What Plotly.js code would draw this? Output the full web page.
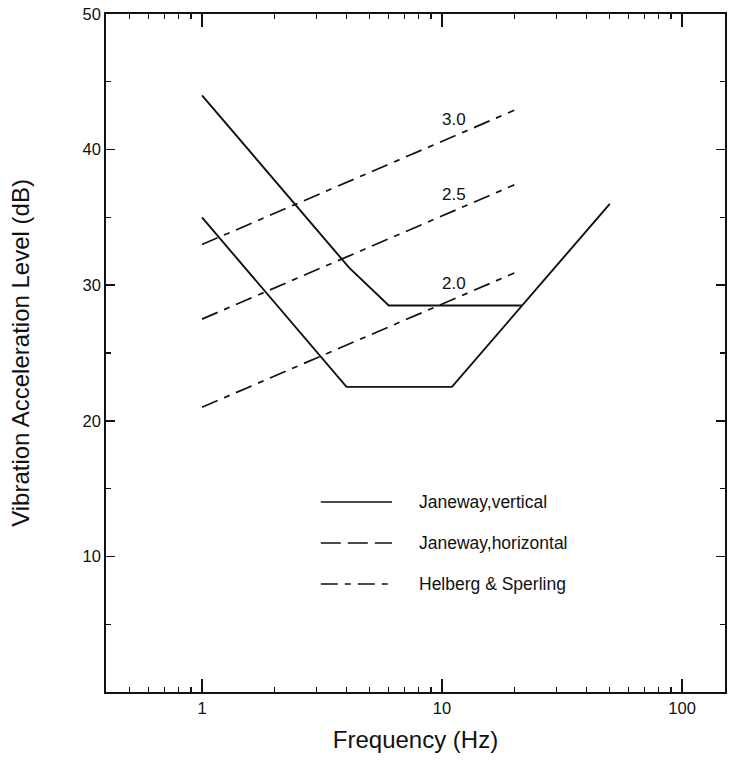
<!DOCTYPE html>
<html>
<head>
<meta charset="utf-8">
<script src="https://cdn.plot.ly/plotly-3.0.1.min.js"></script>
<style>
  html, body { margin: 0; padding: 0; background: #ffffff; }
  #chart { width: 730px; height: 771px; }
</style>
</head>
<body>
<div id="chart"></div>
<script>
// Janeway comfort criterion, upper curve (acceleration level, dB, vs frequency, Hz)
const janewayVertFreq  = [1, 4.1, 6, 21.5];
const janewayVertLevel = [44, 31.3, 28.5, 28.5];

// Janeway comfort criterion, lower curve
const janewayLowFreq  = [1, 4, 11, 50];
const janewayLowLevel = [35, 22.5, 22.5, 36];

// Helberg & Sperling ride-index lines
const helbergFreq       = [1, 20];
const helbergIndex      = ['3.0', '2.5', '2.0'];
const helbergStartLevel = [33, 27.5, 21];
const helbergEndLevel   = [42.9, 37.4, 30.9];
const helbergLabelFreq  = 11.2;
const helbergLabelLevel = [42.2, 36.7, 30.1];

// Legend entries
const legendNames = ['Janeway,vertical', 'Janeway,horizontal', 'Helberg & Sperling'];

// Axis ticks
const xTickVals  = [1, 10, 100];
const xTickText  = ['1', '10', '100'];
const xMinorVals = [0.5, 0.6, 0.7, 0.8, 0.9, 2, 3, 4, 5, 6, 7, 8, 9,
                    20, 30, 40, 50, 60, 70, 80, 90];
const yTickVals  = [10, 20, 30, 40, 50];
const yTickText  = ['10', '20', '30', '40', '50'];

const FONT = 'Liberation Sans, Arial, Helvetica, sans-serif';
const INK = '#111111';
const helbergDash = '17px,7px,6px,7px';
const horizDash = '20px,7px';

const traces = [
  {
    x: janewayVertFreq, y: janewayVertLevel, mode: 'lines',
    line: { color: INK, width: 1.9 }, name: legendNames[0], showlegend: false
  },
  {
    x: janewayLowFreq, y: janewayLowLevel, mode: 'lines',
    line: { color: INK, width: 1.9 }, name: legendNames[0], showlegend: false
  }
];

helbergIndex.forEach((idx, i) => {
  traces.push({
    x: helbergFreq,
    y: [helbergStartLevel[i], helbergEndLevel[i]],
    mode: 'lines',
    line: { color: INK, width: 1.7, dash: helbergDash },
    name: legendNames[2] + ' ' + idx,
    showlegend: false
  });
});

const annotations = helbergIndex.map((idx, i) => ({
  x: Math.log10(helbergLabelFreq), y: helbergLabelLevel[i],
  xref: 'x', yref: 'y', text: idx, showarrow: false,
  font: { family: FONT, size: 17, color: INK }
}));

// Legend block drawn inside the plot area
const legendRowY = [0.2802, 0.2198, 0.1593];
const legendDash = ['solid', horizDash, helbergDash];
const shapes = [];
legendNames.forEach((name, i) => {
  shapes.push({
    type: 'line', xref: 'paper', yref: 'paper',
    x0: 0.347, x1: 0.462, y0: legendRowY[i], y1: legendRowY[i],
    line: { color: INK, width: 1.7, dash: legendDash[i] }
  });
  annotations.push({
    xref: 'paper', yref: 'paper', x: 0.502, y: legendRowY[i],
    xanchor: 'left', yanchor: 'middle', text: name, showarrow: false,
    font: { family: FONT, size: 17.5, color: INK }
  });
});

const layout = {
  width: 730, height: 771,
  margin: { l: 106, r: 5, t: 14, b: 79 },
  paper_bgcolor: '#ffffff', plot_bgcolor: '#ffffff',
  showlegend: false,
  font: { family: FONT, color: INK },
  xaxis: {
    type: 'log', range: [-0.4, 2.179],
    tickmode: 'array', tickvals: xTickVals, ticktext: xTickText,
    ticks: 'inside', ticklen: 13, tickwidth: 1.5, tickcolor: INK,
    minor: { tickmode: 'array', tickvals: xMinorVals, ticks: 'inside', ticklen: 5, tickwidth: 1.2, tickcolor: INK, showgrid: false },
    showline: true, linecolor: INK, linewidth: 1.8, mirror: 'allticks',
    showgrid: false, zeroline: false,
    tickfont: { family: FONT, size: 16.5, color: INK },
    title: { text: 'Frequency (Hz)', font: { family: FONT, size: 24, color: INK }, standoff: 16 }
  },
  yaxis: {
    range: [0, 50],
    tickmode: 'array', tickvals: yTickVals, ticktext: yTickText,
    ticks: 'inside', ticklen: 9, tickwidth: 1.5, tickcolor: INK,
    minor: { dtick: 5, ticks: 'inside', ticklen: 5, tickwidth: 1.2, tickcolor: INK, showgrid: false },
    showline: true, linecolor: INK, linewidth: 1.8, mirror: 'allticks',
    showgrid: false, zeroline: false,
    tickfont: { family: FONT, size: 16.5, color: INK },
    title: { text: 'Vibration Acceleration Level (dB)', font: { family: FONT, size: 24, color: INK }, standoff: 46 }
  },
  shapes: shapes,
  annotations: annotations
};

Plotly.newPlot('chart', traces, layout, { displayModeBar: false, staticPlot: true });
</script>
</body>
</html>
